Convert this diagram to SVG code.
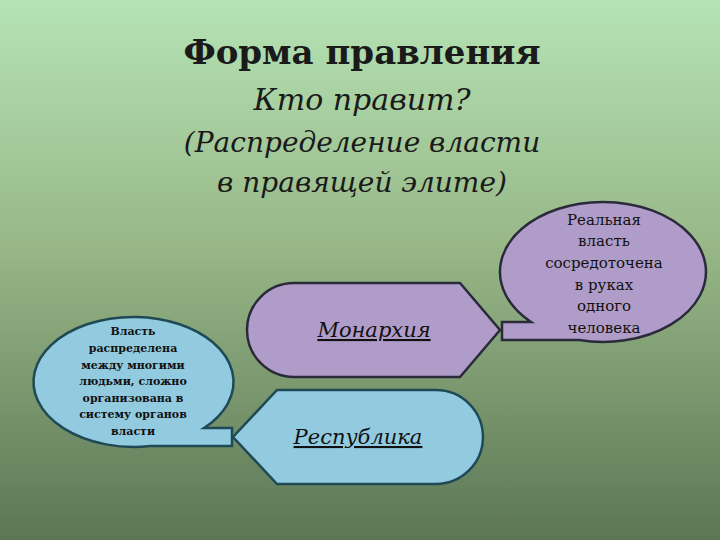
<svg xmlns="http://www.w3.org/2000/svg" width="720" height="540" viewBox="0 0 720 540">
<defs>
<linearGradient id="bg" x1="0" y1="0" x2="0" y2="1">
<stop offset="0" stop-color="#b5e3b5"/><stop offset="0.45" stop-color="#98b888"/><stop offset="1" stop-color="#5c7655"/>
</linearGradient>
<style>
.t{font-family:"DejaVu Serif","Liberation Serif",serif;fill:#1a1a1a;text-anchor:middle}
.h{font-style:italic}
.s{font-family:"DejaVu Serif","Liberation Serif",serif;fill:#111;text-anchor:middle;font-size:11px;font-weight:bold}
.r{font-family:"DejaVu Serif","Liberation Serif",serif;fill:#111;text-anchor:middle;font-size:15px}
.p{fill:#b09cc8;stroke:#2a2a3a;stroke-width:2.5}
.b{fill:#92cbe0;stroke:#1f4a55;stroke-width:2.5}
.l{font-family:"DejaVu Serif","Liberation Serif",serif;fill:#111;text-anchor:middle;font-size:21px;font-style:italic;text-decoration:underline}
</style>
</defs>
<rect width="720" height="540" fill="url(#bg)"/>
<g id="title">
<text class="t" x="362" y="64" font-size="34" font-weight="bold">Форма правления</text>
<text class="t h" x="362" y="110" font-size="30">Кто правит?</text>
<text class="t h" x="362" y="152" font-size="28">(Распределение власти</text>
<text class="t h" x="362" y="192" font-size="28">в правящей элите)</text>
</g>
<g id="connectors"></g>
<g id="monarchy">
<path class="p" d="M294,283 H460 L500,330 L460,377 H294 A47,47 0 0 1 294,283 Z"/>
<text class="l" x="374" y="337">Монархия</text>
</g>
<g id="republic">
<path class="b" d="M277,390 H436 A47,47 0 0 1 436,484 H277 L233,437 Z"/>
<text class="l" x="358" y="444">Республика</text>
</g>
<g id="real">
<path class="p" d="M502,322 H531 A103,70 0 1 1 579,340 H502 Z"/>
<text class="r" x="604" y="225">Реальная</text>
<text class="r" x="604" y="246">власть</text>
<text class="r" x="604" y="268">сосредоточена</text>
<text class="r" x="604" y="290">в руках</text>
<text class="r" x="604" y="311">одного</text>
<text class="r" x="604" y="333">человека</text>
</g>
<g id="many">
<path class="b" d="M204,428 A100,65 0 1 0 150,446 H232 V428 Z"/>
<text class="s" x="133" y="335">Власть</text>
<text class="s" x="133" y="352">распределена</text>
<text class="s" x="133" y="369">между многими</text>
<text class="s" x="133" y="385">людьми, сложно</text>
<text class="s" x="133" y="402">организована в</text>
<text class="s" x="133" y="418">систему органов</text>
<text class="s" x="133" y="435">власти</text>
</g>
</svg>
